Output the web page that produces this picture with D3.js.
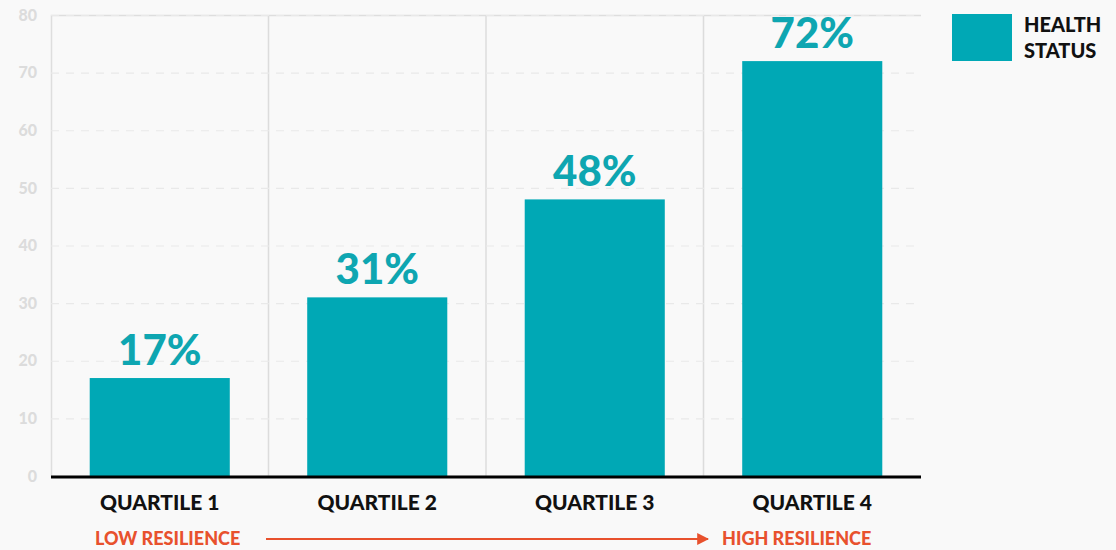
<!DOCTYPE html>
<html>
<head>
<meta charset="utf-8">
<script src="https://cdn.jsdelivr.net/npm/d3@7"></script>
<style>
  html, body { margin: 0; padding: 0; background: #f9f9f9; }
  svg { display: block; font-family: Lato, "Open Sans", sans-serif; }
</style>
</head>
<body>
<svg id="chart" width="1116" height="550"></svg>
<script>
// Share of respondents reporting good health status, by resilience quartile
const categories = ["QUARTILE 1", "QUARTILE 2", "QUARTILE 3", "QUARTILE 4"];
const healthStatus = [17, 31, 48, 72];
const yTicks = [0, 10, 20, 30, 40, 50, 60, 70, 80];
const seriesName = ["HEALTH", "STATUS"];
const scaleLow = "LOW RESILIENCE";
const scaleHigh = "HIGH RESILIENCE";

const svg = d3.select("#chart");
const margin = { left: 51, right: 195, top: 15, bottom: 74 };
const W = 1116, H = 550;
const teal = "#00a8b5";
const orange = "#e8512d";

const x = d3.scaleBand()
  .domain(categories)
  .range([margin.left, W - margin.right])
  .paddingInner(0.356)
  .paddingOuter(0.178);

const y = d3.scaleLinear()
  .domain([0, 80])
  .range([H - margin.bottom, margin.top]);

// Category separators
const bandEdges = x.domain().slice(1).map(d => x(d) - x.step() * x.paddingInner() / 2);
svg.append("g").selectAll("line")
  .data(bandEdges)
  .join("line")
  .attr("x1", d => d).attr("x2", d => d)
  .attr("y1", y(80)).attr("y2", y(0))
  .attr("stroke", "#dcdcdc").attr("stroke-width", 1.5);

// Y axis with dashed gridlines
const yAxis = d3.axisLeft(y)
  .tickValues(yTicks)
  .tickSize(-(W - margin.right - margin.left))
  .tickPadding(14);

const gy = svg.append("g")
  .attr("transform", `translate(${margin.left},0)`)
  .call(yAxis);
gy.select(".domain").attr("stroke", "#dedede").attr("stroke-width", 1.5);
gy.selectAll(".tick line")
  .attr("stroke", "#e9e9e9")
  .attr("stroke-width", 1.2)
  .attr("stroke-dasharray", "8,7");
gy.selectAll(".tick text")
  .attr("fill", "#dcdcdc")
  .attr("font-size", 16)
  .attr("font-weight", 900)
  .attr("font-family", "Lato, sans-serif");

// Bars
svg.append("g").selectAll("rect")
  .data(healthStatus)
  .join("rect")
  .attr("x", (d, i) => x(categories[i]))
  .attr("width", x.bandwidth())
  .attr("y", d => y(d))
  .attr("height", d => y(0) - y(d))
  .attr("fill", teal);

// Value labels
svg.append("g").selectAll("text")
  .data(healthStatus)
  .join("text")
  .attr("x", (d, i) => x(categories[i]) + x.bandwidth() / 2)
  .attr("y", d => y(d) - 13)
  .attr("text-anchor", "middle")
  .attr("fill", "#0ea6b1")
  .attr("font-size", 42)
  .attr("font-weight", 900)
  .text(d => d + "%");

// Baseline
svg.append("line")
  .attr("x1", margin.left).attr("x2", W - margin.right)
  .attr("y1", y(0) + 1).attr("y2", y(0) + 1)
  .attr("stroke", "#000").attr("stroke-width", 3);

// Category labels
svg.append("g").selectAll("text")
  .data(categories)
  .join("text")
  .attr("x", d => x(d) + x.bandwidth() / 2)
  .attr("y", H - margin.bottom + 34)
  .attr("text-anchor", "middle")
  .attr("fill", "#111")
  .attr("font-size", 21)
  .attr("font-weight", 900)
  .text(d => d);

// Resilience scale arrow
const arrowY = 539;
const defs = svg.append("defs");
defs.append("marker")
  .attr("id", "arrowhead")
  .attr("viewBox", "0 0 10 10")
  .attr("refX", 9).attr("refY", 5)
  .attr("markerWidth", 6).attr("markerHeight", 7)
  .attr("markerUnits", "strokeWidth")
  .attr("orient", "auto")
  .append("path")
  .attr("d", "M0,0 L10,5 L0,10 Z")
  .attr("fill", orange);

svg.append("text")
  .attr("x", 95)
  .attr("y", arrowY + 6)
  .attr("fill", orange)
  .attr("font-size", 18)
  .attr("font-weight", 900)
  .text(scaleLow);

svg.append("text")
  .attr("x", 722)
  .attr("y", arrowY + 6)
  .attr("fill", orange)
  .attr("font-size", 18)
  .attr("font-weight", 900)
  .text(scaleHigh);

svg.append("line")
  .attr("x1", 266).attr("x2", 708)
  .attr("y1", arrowY).attr("y2", arrowY)
  .attr("stroke", orange).attr("stroke-width", 2)
  .attr("marker-end", "url(#arrowhead)");

// Legend
const legend = svg.append("g").attr("transform", "translate(952,14)");
legend.append("rect")
  .attr("width", 60).attr("height", 47)
  .attr("fill", teal);
legend.append("text")
  .attr("x", 72).attr("y", 18)
  .attr("fill", "#111")
  .attr("font-size", 20)
  .attr("font-weight", 900)
  .selectAll("tspan")
  .data(seriesName)
  .join("tspan")
  .attr("x", 72)
  .attr("dy", (d, i) => i === 0 ? 0 : 26)
  .text(d => d);
</script>
</body>
</html>
